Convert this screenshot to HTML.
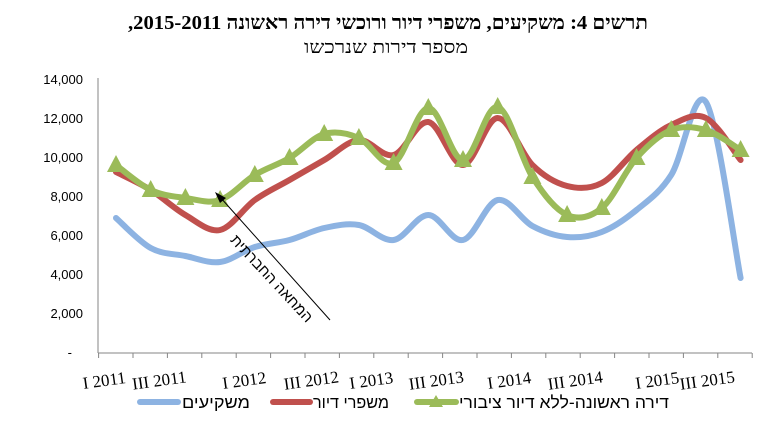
<!DOCTYPE html>
<html><head><meta charset="utf-8"><style>
body{margin:0;background:#fff;width:772px;height:430px;overflow:hidden}
</style></head><body>
<svg id="s" width="772" height="430" xmlns="http://www.w3.org/2000/svg" font-family="'Liberation Serif','Noto Serif CJK SC',serif">
<text x="388" y="29" text-anchor="middle" font-size="20" font-weight="bold" direction="rtl" textLength="520" lengthAdjust="spacingAndGlyphs">תרשים 4: משקיעים, משפרי דיור ורוכשי דירה ראשונה 2011&#x200F;-&#x200F;2015,</text>
<text x="386" y="53" text-anchor="middle" font-size="18" direction="rtl" textLength="164" lengthAdjust="spacingAndGlyphs">מספר דירות שנרכשו</text>
<g font-size="13" text-anchor="end" font-family="'Liberation Sans',sans-serif">
<text x="83" y="84">14,000</text><text x="83" y="123">12,000</text><text x="83" y="162">10,000</text>
<text x="83" y="201">8,000</text><text x="83" y="240">6,000</text><text x="83" y="279">4,000</text>
<text x="83" y="318">2,000</text><text x="72" y="357">-</text>
</g>
<g stroke="#868686" stroke-width="1" id="ax">
<line x1="98" y1="78" x2="98" y2="353"/><line x1="98" y1="353" x2="752" y2="353"/>
</g>
<g id="lines"></g>
<line x1="330" y1="320" x2="220" y2="197" stroke="#000" stroke-width="1"/>
<polygon points="215,192 226,198 220,203" fill="#000"/>
<text transform="translate(268,282) rotate(47)" text-anchor="middle" font-size="15" font-family="'Liberation Sans',sans-serif" direction="rtl">המחאה החברתית</text>
<g font-size="17" id="xl"></g>
<g font-size="17" font-family="'Liberation Sans',sans-serif">
<line x1="140" y1="402" x2="178" y2="402" stroke="#8db3e2" stroke-width="6" stroke-linecap="round"/>
<text x="182" y="408" textLength="68" lengthAdjust="spacingAndGlyphs">משקיעים</text>
<line x1="273" y1="402" x2="310" y2="402" stroke="#c0504d" stroke-width="6" stroke-linecap="round"/>
<text x="313" y="408" textLength="76" lengthAdjust="spacingAndGlyphs">משפרי דיור</text>
<line x1="417" y1="402" x2="456" y2="402" stroke="#9bbb59" stroke-width="6" stroke-linecap="round"/>
<polygon points="436,395 443,407 429,407" fill="#9bbb59"/>
<text x="459" y="408" textLength="210" lengthAdjust="spacingAndGlyphs">דירה ראשונה-ללא דיור ציבורי</text>
</g>
</svg>
<script>
var NS="http://www.w3.org/2000/svg";
var b=[218,248,256,262,247,240,228,225,240,215,240,200,226,237,232,210,175,102,278];
var r=[172,190,215,230,200,180,160,140,155,122,165,118,165,186,183,150,125,118,160];
var g=[165,190,198,200,175,158,134,138,163,108,160,107,177,215,208,158,130,130,150];
function X(i){return 116+34.7*i}
function path(ys){var p=ys.map(function(y,i){return [X(i),y]});var d="M"+p[0];
for(var i=0;i<p.length-1;i++){var p0=p[i-1]||p[i],p1=p[i],p2=p[i+1],p3=p[i+2]||p2;
d+=" C"+(p1[0]+(p2[0]-p0[0])/6)+","+(p1[1]+(p2[1]-p0[1])/6)+" "+(p2[0]-(p3[0]-p1[0])/6)+","+(p2[1]-(p3[1]-p1[1])/6)+" "+p2;}return d}
var L=document.getElementById("lines");
[[b,"#8db3e2"],[r,"#c0504d"],[g,"#9bbb59"]].forEach(function(a){var e=document.createElementNS(NS,"path");
e.setAttribute("d",path(a[0]));e.setAttribute("fill","none");e.setAttribute("stroke",a[1]);e.setAttribute("stroke-width","6");e.setAttribute("stroke-linecap","round");L.appendChild(e)});
g.forEach(function(y,i){var e=document.createElementNS(NS,"polygon");var x=X(i);
e.setAttribute("points",x+","+(y-10)+" "+(x+9)+","+(y+7)+" "+(x-9)+","+(y+7));e.setAttribute("fill","#9bbb59");L.appendChild(e)});
var ax=document.getElementById("ax");
for(var i=0;i<=19;i++){var t=document.createElementNS(NS,"line");var x=98.6+34.4*i;
t.setAttribute("x1",x);t.setAttribute("x2",x);t.setAttribute("y1",353);t.setAttribute("y2",358);ax.appendChild(t)}
var labs=["I 2011","III 2011","I 2012","III 2012","I 2013","III 2013","I 2014","III 2014","I 2015","III 2015"];
var cx=[105,160,245,312,372,437,510,576,658,708];
var xl=document.getElementById("xl");
labs.forEach(function(s,i){var t=document.createElementNS(NS,"text");t.setAttribute("text-anchor","middle");
t.setAttribute("transform","translate("+cx[i]+",386) rotate(-8)");t.textContent=s;xl.appendChild(t)});
</script>
</body></html>
